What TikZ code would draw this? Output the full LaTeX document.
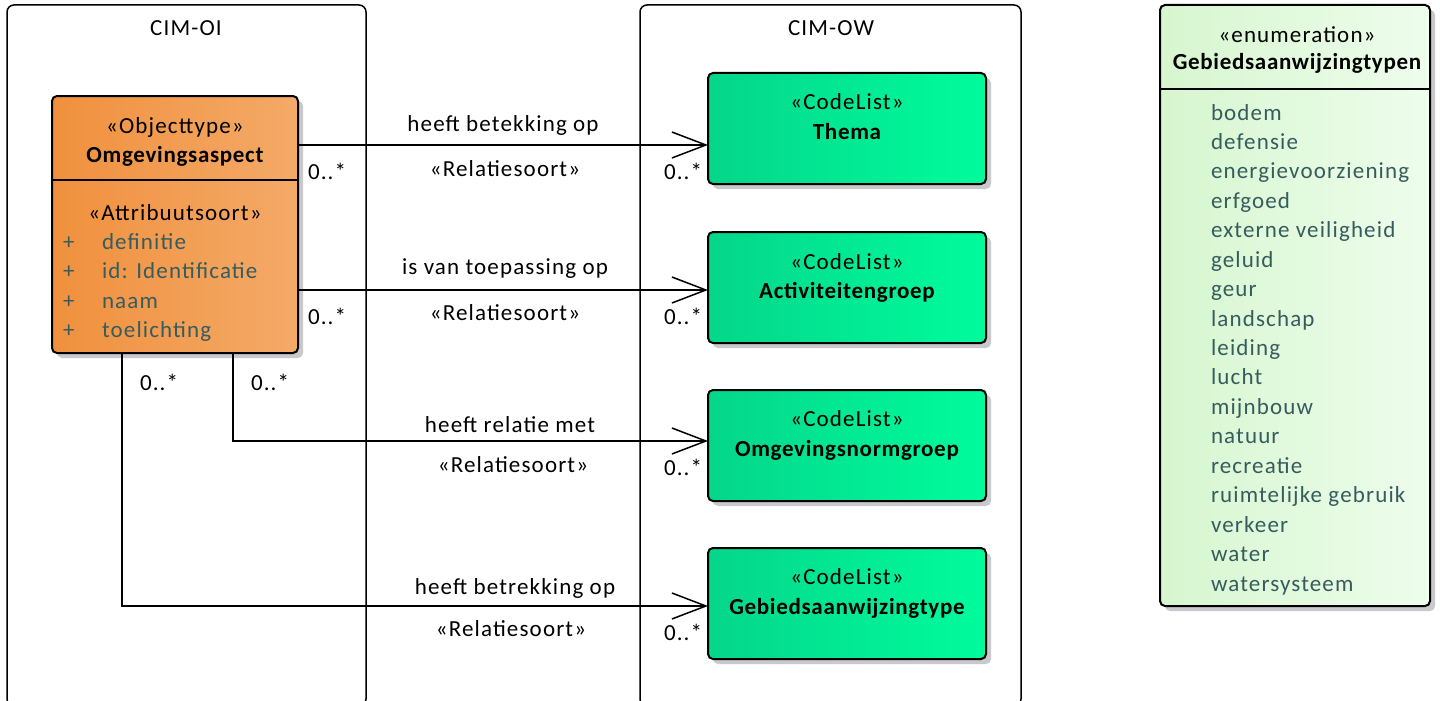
\documentclass[tikz,border=0pt]{standalone}
\usepackage{fontspec}
\setmainfont{Carlito}[LetterSpace=5, BoldFeatures={LetterSpace=3}]
\usetikzlibrary{arrows.meta,shadows,calc}

\definecolor{orangeL}{HTML}{F0903D}
\definecolor{orangeR}{HTML}{F4AA68}
\definecolor{greenL}{HTML}{04D68A}
\definecolor{greenR}{HTML}{00FC9C}
\definecolor{enumL}{HTML}{D6F6CF}
\definecolor{enumR}{HTML}{EEFDEC}
\definecolor{attrtext}{HTML}{365C5E}
\definecolor{shadegray}{HTML}{C9C9CD}

\begin{document}
\begin{tikzpicture}[x=1pt,y=1pt,
  every node/.style={font=\fontsize{23}{27}\selectfont, inner sep=0pt, outer sep=0pt},
  pkg/.style={draw, line width=1.5pt, rounded corners=7pt},
  cls/.style={draw, line width=2pt, rounded corners=5pt, anchor=north west,
    general shadow={fill=shadegray, shadow xshift=5pt, shadow yshift=-5pt}},
  objbox/.style={cls, left color=orangeL, right color=orangeR},
  codebox/.style={cls, left color=greenL, right color=greenR, minimum width=278pt, minimum height=111pt},
  enumbox/.style={cls, left color=enumL, right color=enumR},
  divider/.style={line width=1.5pt},
  txt/.style={anchor=base},
  bold/.style={anchor=base, font=\fontsize{23}{27}\selectfont\bfseries},
  attr/.style={anchor=base west, text=attrtext},
  mult/.style={anchor=base west},
  assoc/.style={line width=1.5pt, -{Straight Barb[length=34pt, width=26pt, line width=1.5pt]}}
]
\useasboundingbox (0,0) rectangle (1440,-701);

% packages
\draw[pkg] (7,-5) rectangle (366,-706);
\node[txt] (pkgoi) at (186,-36) {CIM-OI};
\draw[pkg] (640,-5) rectangle (1021,-706);
\node[txt] (pkgow) at (831,-36) {CIM-OW};

% Omgevingsaspect
\node[objbox, minimum width=246pt, minimum height=257pt] (oa) at (52,-96) {};
\draw[divider] (oa.west |- 0,-180) -- (oa.east |- 0,-180);
\node[txt] (oast) at (175,-133) {«Objecttype»};
\node[bold] (oaname) at (175,-162) {Omgevingsaspect};
\node[txt] (oaatt) at (175,-220) {«Attribuutsoort»};
\foreach \a [count=\i] in {definitie, id: Identificatie, naam, toelichting} {
  \node[attr] (plus\i) at (63,{-249-29.6*(\i-1)}) {+};
  \node[attr] (att\i) at (102,{-249-29.6*(\i-1)}) {\a};
}

% code lists
\node[codebox] (th) at (708,-73) {};
\node[txt] (thst) at (847,-110) {«CodeList»};
\node[bold] (thname) at (847,-139) {Thema};

\node[codebox] (ag) at (708,-232) {};
\node[txt] (agst) at (847,-269) {«CodeList»};
\node[bold] (agname) at (847,-298) {Activiteitengroep};

\node[codebox] (on) at (708,-390) {};
\node[txt] (onst) at (847,-426) {«CodeList»};
\node[bold] (onname) at (847,-456) {Omgevingsnormgroep};

\node[codebox] (gt) at (708,-548) {};
\node[txt] (gtst) at (847,-584) {«CodeList»};
\node[bold] (gtname) at (847,-614) {Gebiedsaanwijzingtype};

% enumeration
\node[enumbox, minimum width=270pt, minimum height=601pt] (en) at (1160,-5) {};
\draw[divider] (en.west |- 0,-89) -- (en.east |- 0,-89);
\node[txt] (enst) at (1297,-43) {«enumeration»};
\node[bold] (enname) at (1297,-70) {Gebiedsaanwijzingtypen};
\foreach \v [count=\i] in {bodem, defensie, energievoorziening, erfgoed, externe veiligheid,
  geluid, geur, landschap, leiding, lucht, mijnbouw, natuur, recreatie,
  ruimtelijke gebruik, verkeer, water, watersysteem} {
  \node[attr] (lit\i) at (1211,{-120-29.44*(\i-1)}) {\v};
}

% associations
\coordinate (s1) at (oa.east |- 0,-145);
\draw[assoc] (s1) -- (s1 -| th.west);
\node[txt] (l1) at (503,-131) {heeft betekking op};
\node[txt] (r1) at (505,-176) {«Relatiesoort»};
\node[mult] (m1a) at (308,-179) {0..*};
\node[mult] (m1b) at (664,-179) {0..*};

\coordinate (s2) at (oa.east |- 0,-290);
\draw[assoc] (s2) -- (s2 -| ag.west);
\node[txt] (l2) at (505,-274) {is van toepassing op};
\node[txt] (r2) at (505,-320) {«Relatiesoort»};
\node[mult] (m2a) at (308,-324) {0..*};
\node[mult] (m2b) at (664,-324) {0..*};

\coordinate (s3) at (oa.south -| 233,0);
\coordinate (k3) at (233,-441);
\draw[assoc] (s3) -- (k3) -- (k3 -| on.west);
\node[txt] (l3) at (510,-432) {heeft relatie met};
\node[txt] (r3) at (513,-472) {«Relatiesoort»};
\node[mult] (m3a) at (251,-390) {0..*};
\node[mult] (m3b) at (664,-475) {0..*};

\coordinate (s4) at (oa.south -| 122,0);
\coordinate (k4) at (122,-606);
\draw[assoc] (s4) -- (k4) -- (k4 -| gt.west);
\node[txt] (l4) at (515,-594) {heeft betrekking op};
\node[txt] (r4) at (511,-636) {«Relatiesoort»};
\node[mult] (m4a) at (140,-390) {0..*};
\node[mult] (m4b) at (664,-640) {0..*};
\end{tikzpicture}
\end{document}
